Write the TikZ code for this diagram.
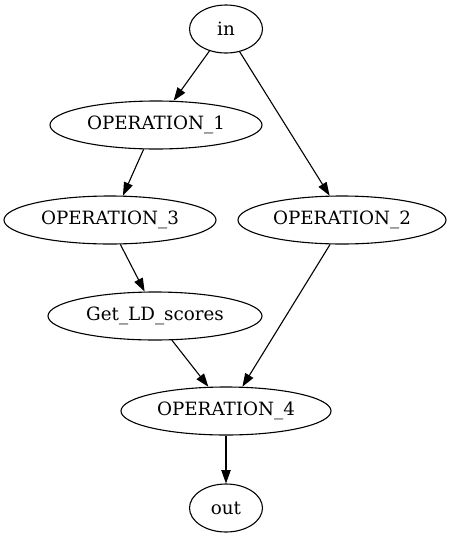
\documentclass[tikz,border=0pt]{standalone}
\usepackage{fontspec}
\setmainfont{DejaVu Serif}
\usetikzlibrary{arrows.meta,shapes.geometric}
\begin{document}
\begin{tikzpicture}[x=1pt,y=-1pt,
  op/.style={ellipse,draw,line width=1.1pt,inner sep=0pt,minimum height=48pt,
    font=\fontsize{18.3}{22}\selectfont},
  edge/.style={line width=1.1pt,-{Triangle[length=13.3pt,width=9.3pt]}}]
  \useasboundingbox (0,0) rectangle (454,539);
  % nodes
  \node[op,minimum width=73pt]  (in)   at (226,29)  {in};
  \node[op,minimum width=212pt] (op1)  at (156,125) {OPERATION\_1};
  \node[op,minimum width=212pt] (op3)  at (110,220) {OPERATION\_3};
  \node[op,minimum width=208pt] (op2)  at (342,220) {OPERATION\_2};
  \node[op,minimum width=214pt] (ld)   at (155,316) {Get\_LD\_scores};
  \node[op,minimum width=210pt] (op4)  at (226,411) {OPERATION\_4};
  \node[op,minimum width=73pt]  (out)  at (226,508) {out};
  % edges
  \draw[edge] (in.233.5)  -- (op1.54.7);
  \draw[edge] (in.301.3)  -- (op2.117.6);
  \draw[edge] (op1.243.4) -- (op3.62.4);
  \draw[edge] (op3.293.7) -- (ld.113.5);
  \draw[edge] (ld.305.8)  -- (op4.126.5);
  \draw[edge] (op2.244.4) -- (op4.56.9);
  \draw[edge] (op4.south) -- (out.north);
\end{tikzpicture}
\end{document}
